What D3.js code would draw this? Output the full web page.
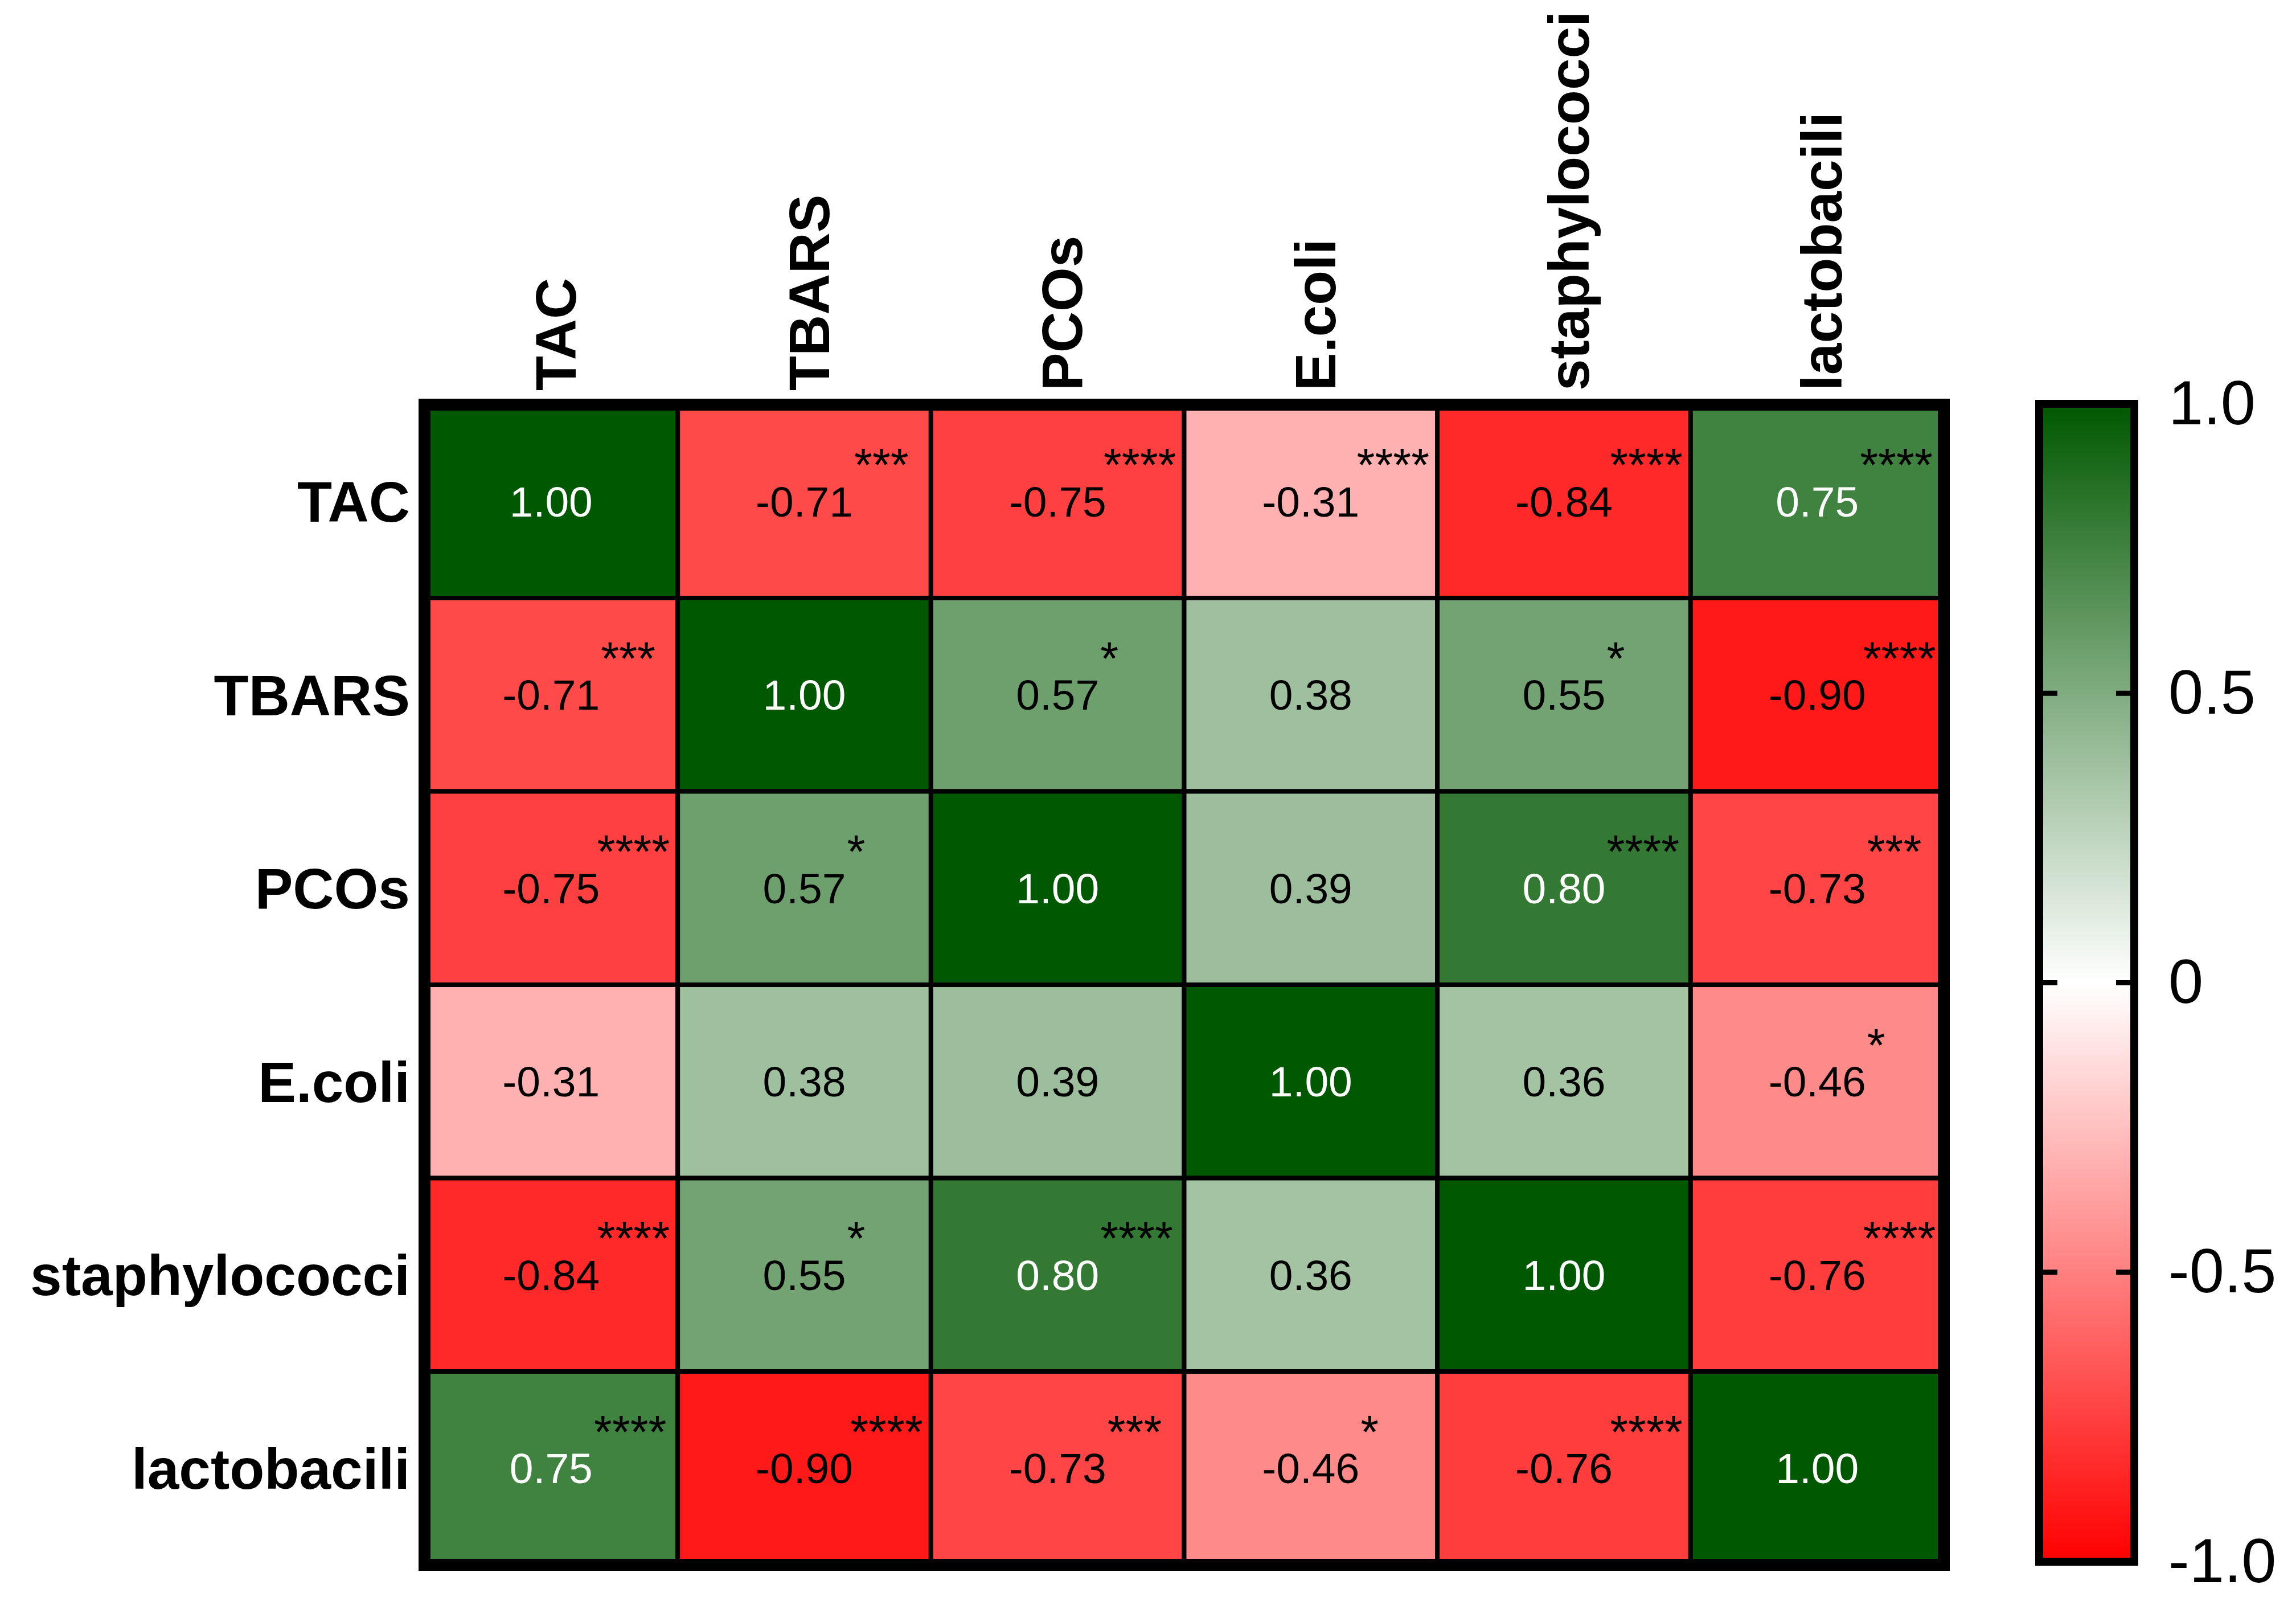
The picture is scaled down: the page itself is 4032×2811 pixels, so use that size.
<!DOCTYPE html>
<html>
<head>
<meta charset="utf-8">
<script src="https://cdn.jsdelivr.net/npm/d3@7"></script>
<style>
  body { margin: 0; background: #fff; }
  text { font-family: "Liberation Sans", Arial, sans-serif; }
</style>
</head>
<body>
<svg id="chart" width="4032" height="2811"></svg>
<script>
// Variables (rows and columns are the same)
const variables = ["TAC", "TBARS", "PCOs", "E.coli", "staphylococci", "lactobacili"];

// Correlation matrix, row by row
const rTAC   = [ 1.00, -0.71, -0.75, -0.31, -0.84,  0.75];
const rTBARS = [-0.71,  1.00,  0.57,  0.38,  0.55, -0.90];
const rPCOs  = [-0.75,  0.57,  1.00,  0.39,  0.80, -0.73];
const rEcoli = [-0.31,  0.38,  0.39,  1.00,  0.36, -0.46];
const rStaph = [-0.84,  0.55,  0.80,  0.36,  1.00, -0.76];
const rLacto = [ 0.75, -0.90, -0.73, -0.46, -0.76,  1.00];

// Significance stars, row by row
const sTAC   = ["", "***", "****", "****", "****", "****"];
const sTBARS = ["***", "", "*", "", "*", "****"];
const sPCOs  = ["****", "*", "", "", "****", "***"];
const sEcoli = ["", "", "", "", "", "*"];
const sStaph = ["****", "*", "****", "", "", "****"];
const sLacto = ["****", "****", "***", "*", "****", ""];

// Colour bar ticks
const barTicks = [1, 0.5, 0, -0.5, -1];
const barTickLabels = ["1.0", "0.5", "0", "-0.5", "-1.0"];

const values = [rTAC, rTBARS, rPCOs, rEcoli, rStaph, rLacto];
const stars = [sTAC, sTBARS, sPCOs, sEcoli, sStaph, sLacto];

const cells = [];
values.forEach((row, i) => {
    row.forEach((v, j) => {
        cells.push({ row: variables[i], col: variables[j], value: v, star: stars[i][j] });
    });
});

const svg = d3.select("#chart");

// Grid layout
const grid = { left: 745.5, right: 3413.5, top: 710.5, bottom: 2747.5 };

const x = d3.scaleBand().domain(variables).range([grid.left, grid.right]);
const y = d3.scaleBand().domain(variables).range([grid.top, grid.bottom]);

const color = d3.scaleLinear()
    .domain([-1, 0, 1])
    .range(["#ff0000", "#ffffff", "#005800"]);

// Cells
const g = svg.append("g");

g.selectAll(".cell")
    .data(cells)
    .enter().append("rect")
    .attr("class", "cell")
    .attr("x", d => x(d.col))
    .attr("y", d => y(d.row))
    .attr("width", x.bandwidth())
    .attr("height", y.bandwidth())
    .attr("fill", d => color(d.value))
    .attr("stroke", "#000")
    .attr("stroke-width", 8);

// Values
const valueText = g.selectAll(".val")
    .data(cells)
    .enter().append("text")
    .attr("class", "val")
    .attr("x", d => x(d.col) + x.bandwidth() / 2)
    .attr("y", d => y(d.row) + y.bandwidth() / 2)
    .attr("dy", "0.35em")
    .attr("text-anchor", "middle")
    .attr("font-size", 75)
    .attr("fill", d => d.value >= 0.7 ? "#fff" : "#000")
    .text(d => d.value.toFixed(2));

// Stars, superscript after the value (kept inside the cell)
valueText.each(function (d) {
    if (!d.star) return;
    const w = this.getComputedTextLength();
    const cx = x(d.col) + x.bandwidth() / 2;
    const cy = y(d.row) + y.bandwidth() / 2;
    const s = g.append("text")
        .attr("y", cy - 36)
        .attr("font-size", 82)
        .attr("fill", "#000")
        .text(d.star);
    const sw = s.node().getComputedTextLength();
    const right = x(d.col) + x.bandwidth() - 14;
    s.attr("x", Math.min(cx + w / 2 + 2, right - sw));
});

// Outer frame
g.append("rect")
    .attr("x", grid.left)
    .attr("y", grid.top)
    .attr("width", grid.right - grid.left)
    .attr("height", grid.bottom - grid.top)
    .attr("fill", "none")
    .attr("stroke", "#000")
    .attr("stroke-width", 21);

// Row labels
svg.append("g").selectAll("text")
    .data(variables)
    .enter().append("text")
    .attr("x", 720)
    .attr("y", d => y(d) + y.bandwidth() / 2)
    .attr("dy", "0.36em")
    .attr("text-anchor", "end")
    .attr("font-size", 100)
    .attr("font-weight", "bold")
    .text(d => d);

// Column labels (rotated)
svg.append("g").selectAll("text")
    .data(variables)
    .enter().append("text")
    .attr("transform", d => "translate(" + (x(d) + x.bandwidth() / 2 + 43) + ",686) rotate(-90)")
    .attr("text-anchor", "start")
    .attr("font-size", 100)
    .attr("font-weight", "bold")
    .text(d => d);

// Colour bar
const bar = { left: 3581, right: 3748, top: 709, bottom: 2742 };
const yBar = d3.scaleLinear().domain([-1, 1]).range([bar.bottom, bar.top]);

const defs = svg.append("defs");
const grad = defs.append("linearGradient")
    .attr("id", "barGrad")
    .attr("x1", 0).attr("y1", 1).attr("x2", 0).attr("y2", 0);
[-1, -0.5, 0, 0.5, 1].forEach(v => {
    grad.append("stop")
        .attr("offset", (v + 1) / 2)
        .attr("stop-color", color(v));
});

svg.append("rect")
    .attr("x", bar.left)
    .attr("y", yBar(1))
    .attr("width", bar.right - bar.left)
    .attr("height", yBar(-1) - yBar(1))
    .attr("fill", "url(#barGrad)")
    .attr("stroke", "#000")
    .attr("stroke-width", 14);

// Inner tick marks on both sides
const inner = barTicks.filter(t => t > -1 && t < 1);
svg.append("g").selectAll("line")
    .data(inner)
    .enter().append("line")
    .attr("x1", bar.left + 7).attr("x2", bar.left + 32)
    .attr("y1", d => yBar(d)).attr("y2", d => yBar(d))
    .attr("stroke", "#000").attr("stroke-width", 9);
svg.append("g").selectAll("line")
    .data(inner)
    .enter().append("line")
    .attr("x1", bar.right - 7).attr("x2", bar.right - 32)
    .attr("y1", d => yBar(d)).attr("y2", d => yBar(d))
    .attr("stroke", "#000").attr("stroke-width", 9);

// Colour bar labels
const barAxis = svg.append("g")
    .attr("transform", "translate(" + bar.right + ",0)")
    .call(d3.axisRight(yBar)
        .tickValues(barTicks)
        .tickFormat((d, i) => barTickLabels[i])
        .tickSize(0)
        .tickPadding(60));
barAxis.select(".domain").remove();
barAxis.selectAll("text")
    .attr("font-size", 110)
    .attr("font-family", "'Liberation Sans', Arial, sans-serif")
    .attr("fill", "#000");
</script>
</body>
</html>
